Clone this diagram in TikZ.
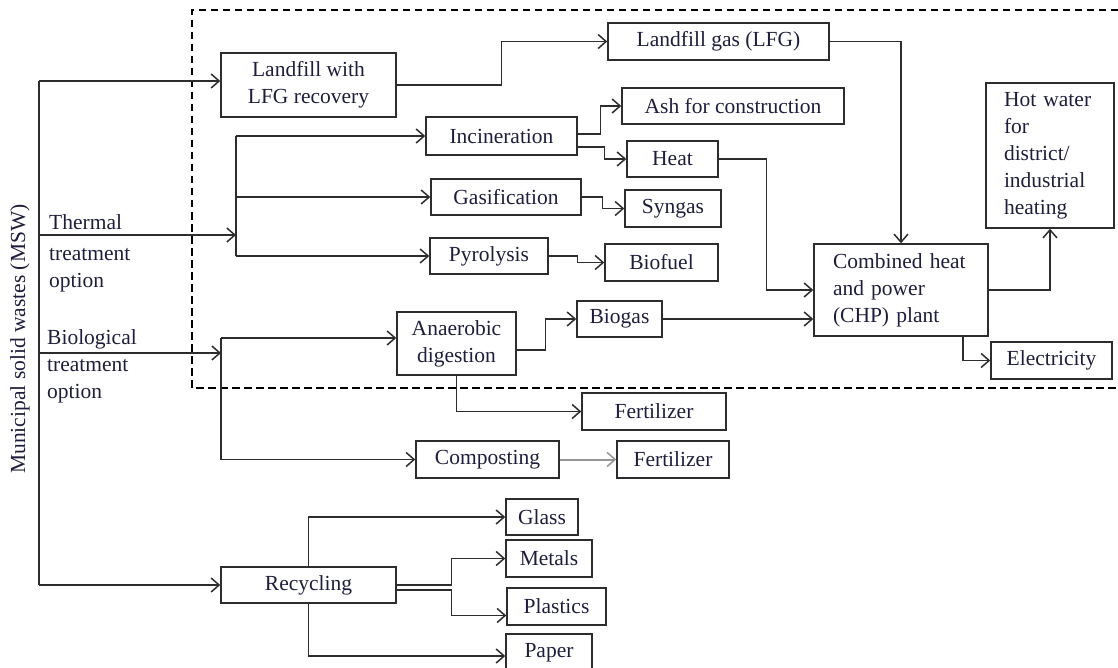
\documentclass[tikz,border=0pt]{standalone}
\usepackage{fontspec}
\setmainfont{Liberation Serif}
\usetikzlibrary{arrows.meta}
\definecolor{lc}{RGB}{45,45,45}
\definecolor{lg}{RGB}{150,150,150}
\definecolor{tc}{RGB}{30,30,60}
\newcommand\bx[7][]{\node[box,minimum width={(#5-#3)*1pt},minimum height={(#6-#4)*1pt},#1] (#2) at ({(#3+#5)/2},{(#4+#6)/2}) {#7};}
\begin{document}
\begin{tikzpicture}[x=1pt,y=-1pt,
  txt/.style={font=\fontsize{21.5}{27}\selectfont, text=tc},
  box/.style={txt, draw=lc, line width=1.5pt, inner sep=0pt, align=center},
  line/.style={draw=lc, line width=1.4pt},
  conn/.style={line, -{Straight Barb[length=8pt,width=14pt,line width=1.5pt]}},
  lbl/.style={txt, align=left, inner sep=0pt, anchor=north west},
  dashbox/.style={draw=black, line width=1.4pt, dash pattern=on 7.5pt off 4.5pt}
]
\useasboundingbox (0,0) rectangle (1118,668);
% dashed region
\draw[dashbox] (1118,10) -- (192,10) -- (192,388) -- (1118,388);

% boxes
\bx{land}{221}{53}{396}{117}{Landfill with\\LFG recovery}
\bx{lfg}{608}{23}{829}{60}{Landfill gas (LFG)}
\bx{inc}{426}{117}{577}{155}{Incineration}
\bx{ash}{622}{88}{844}{124}{Ash for construction}
\bx{heat}{627}{141}{718}{177}{Heat}
\bx{gas}{431}{179}{581}{215}{Gasification}
\bx{syn}{625}{190}{721}{227}{Syngas}
\bx{pyr}{430}{238}{548}{274}{Pyrolysis}
\bx{bfuel}{605}{244}{718}{281}{Biofuel}
\bx[align=left,inner xsep=18pt,text width=92pt]{hot}{986}{83}{1114}{228}{Hot water\\for\\district/\\industrial\\heating}
\bx[align=left,inner xsep=19pt,text width=136pt]{chp}{814}{244}{988}{336}{Combined heat\\and power\\(CHP) plant}
\bx{elec}{991}{342}{1112}{379}{Electricity}
\bx{ana}{397}{312}{516}{375}{Anaerobic\\digestion}
\bx{biogas}{577}{301}{662}{337}{Biogas}
\bx{fert1}{582}{393}{726}{430}{Fertilizer}
\bx{comp}{416}{441}{559}{478}{Composting}
\bx{fert2}{617}{441}{729}{478}{Fertilizer}
\bx{rec}{221}{567}{396}{603}{Recycling}
\bx{glass}{506}{499}{578}{535}{Glass}
\bx{met}{506}{540}{592}{577}{Metals}
\bx{pla}{507}{588}{606}{625}{Plastics}
\bx{pap}{506}{634}{592}{672}{Paper}

% labels
\node[txt, rotate=90] (msw) at (20,339) {Municipal solid wastes (MSW)};
\node[lbl] (thl) at (49,214) {Thermal\\[4pt]treatment\\option};
\node[lbl] (bil) at (47,329) {Biological\\treatment\\option};

% trunk
\coordinate (t1) at (39,81);
\coordinate (t2) at (39,235);
\coordinate (t3) at (39,353);
\coordinate (t4) at (39,585);
\draw[line] (t1) -- (t4);
\draw[conn] (t1) -- (land.west |- t1);
\draw[conn] (t4) -- (rec.west);

% thermal bracket
\coordinate (thb) at (236,235);
\draw[conn] (t2) -- (thb);
\draw[line] (thb |- inc.west) -- (thb |- pyr.west);
\draw[conn] (thb |- inc.west) -- (inc.west);
\draw[conn] (thb |- gas.west) -- (gas.west);
\draw[conn] (thb |- pyr.west) -- (pyr.west);

% landfill
\draw[conn] (land.east) -- ++(105,0) |- (lfg.west);
\draw[conn] (lfg.east) -| (chp.north);

% incineration etc.
\draw[conn] ([yshift=2pt]inc.east) -- ++(23,0) |- (ash.west);
\draw[conn] ([yshift=-11pt]inc.east) -- ++(27,0) |- (heat.west);
\draw[conn] (heat.east) -- ++(48,0) |- (chp.west);
\draw[conn] (gas.east) -- ++(21,0) |- (syn.west);
\draw[conn] (pyr.east) -- ++(29,0) |- (bfuel.west);

% CHP outputs
\draw[conn] (chp.east) -| (hot.south);
\draw[conn] ([xshift=62pt]chp.south) |- (elec.west);

% biological bracket
\coordinate (bb) at (221,353);
\draw[conn] (t3) -- (bb);
\draw[line] (bb |- 0,338) -- (bb |- comp.west);
\draw[conn] (bb |- 0,338) -- (ana.west |- 0,338);
\draw[conn] (bb |- comp.west) -- (comp.west);
\draw[conn] ([yshift=-6.5pt]ana.east) -- ++(29,0) |- (biogas.west);
\draw[conn] (biogas.east) -- (chp.west |- biogas.east);
\draw[conn] (ana.south) |- (fert1.west);
\draw[conn, draw=lg, line width=2pt] (comp.east) -- (fert2.west);

% recycling
\draw[conn] (rec.north) |- (glass.west);
\draw[conn] (rec.east) -- ++(55,0) |- (met.west);
\draw[conn] ([yshift=-5pt]rec.east) -- ++(55,0) |- ([yshift=-9pt]pla.west);
\draw[conn] (rec.south) |- ([yshift=-3pt]pap.west);
\end{tikzpicture}
\end{document}
